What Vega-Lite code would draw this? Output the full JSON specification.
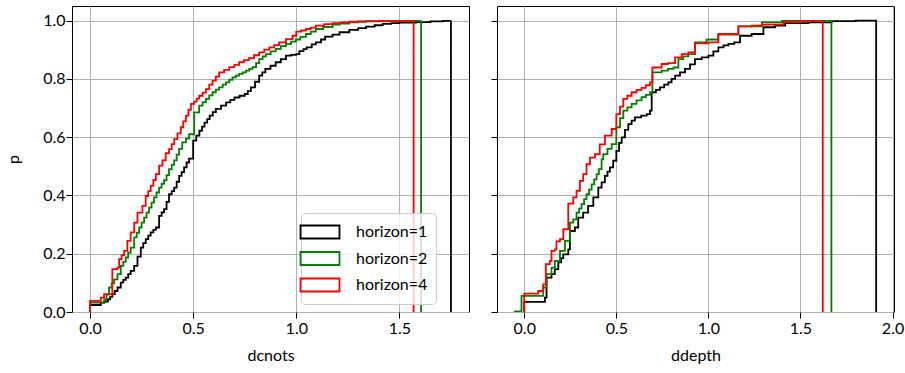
{
"$schema": "https://vega.github.io/schema/vega-lite/v6.json",
"padding": {"left": 5, "top": 5, "right": 5, "bottom": 5},
"config": {
  "font": "Lato",
  "view": {"stroke": "#000000", "strokeWidth": 1},
  "axis": {"domain": false, "tickColor": "#000000", "tickSize": 6, "tickWidth": 1, "labelFontSize": 16, "labelColor": "#000000", "titleFontSize": 16, "titleFontWeight": "normal", "titleColor": "#000000", "gridColor": "#b0b0b0", "gridWidth": 1, "labelFont": "Lato", "titleFont": "Lato"},
  "line": {"strokeWidth": 1.8}
},
"datasets": {
"cdf": [
{"v":"dcnots","h":"horizon=1","i":0,"x":0,"p":0},{"v":"dcnots","h":"horizon=1","i":1,"x":0,"p":0.024},{"v":"dcnots","h":"horizon=1","i":2,"x":0.052,"p":0.032},{"v":"dcnots","h":"horizon=1","i":3,"x":0.07,"p":0.036},{"v":"dcnots","h":"horizon=1","i":4,"x":0.087,"p":0.043},{"v":"dcnots","h":"horizon=1","i":5,"x":0.098,"p":0.052},{"v":"dcnots","h":"horizon=1","i":6,"x":0.108,"p":0.061},{"v":"dcnots","h":"horizon=1","i":7,"x":0.12,"p":0.072},{"v":"dcnots","h":"horizon=1","i":8,"x":0.133,"p":0.084},{"v":"dcnots","h":"horizon=1","i":9,"x":0.149,"p":0.101},{"v":"dcnots","h":"horizon=1","i":10,"x":0.161,"p":0.11},{"v":"dcnots","h":"horizon=1","i":11,"x":0.173,"p":0.118},{"v":"dcnots","h":"horizon=1","i":12,"x":0.185,"p":0.13},{"v":"dcnots","h":"horizon=1","i":13,"x":0.197,"p":0.141},{"v":"dcnots","h":"horizon=1","i":14,"x":0.214,"p":0.158},{"v":"dcnots","h":"horizon=1","i":15,"x":0.23,"p":0.19},{"v":"dcnots","h":"horizon=1","i":16,"x":0.246,"p":0.221},{"v":"dcnots","h":"horizon=1","i":17,"x":0.258,"p":0.236},{"v":"dcnots","h":"horizon=1","i":18,"x":0.27,"p":0.25},{"v":"dcnots","h":"horizon=1","i":19,"x":0.282,"p":0.262},{"v":"dcnots","h":"horizon=1","i":20,"x":0.294,"p":0.273},{"v":"dcnots","h":"horizon=1","i":21,"x":0.307,"p":0.282},{"v":"dcnots","h":"horizon=1","i":22,"x":0.319,"p":0.29},{"v":"dcnots","h":"horizon=1","i":23,"x":0.335,"p":0.33},{"v":"dcnots","h":"horizon=1","i":24,"x":0.347,"p":0.342},{"v":"dcnots","h":"horizon=1","i":25,"x":0.359,"p":0.353},{"v":"dcnots","h":"horizon=1","i":26,"x":0.371,"p":0.378},{"v":"dcnots","h":"horizon=1","i":27,"x":0.383,"p":0.404},{"v":"dcnots","h":"horizon=1","i":28,"x":0.396,"p":0.415},{"v":"dcnots","h":"horizon=1","i":29,"x":0.408,"p":0.427},{"v":"dcnots","h":"horizon=1","i":30,"x":0.42,"p":0.447},{"v":"dcnots","h":"horizon=1","i":31,"x":0.432,"p":0.467},{"v":"dcnots","h":"horizon=1","i":32,"x":0.444,"p":0.48},{"v":"dcnots","h":"horizon=1","i":33,"x":0.456,"p":0.496},{"v":"dcnots","h":"horizon=1","i":34,"x":0.468,"p":0.513},{"v":"dcnots","h":"horizon=1","i":35,"x":0.48,"p":0.526},{"v":"dcnots","h":"horizon=1","i":36,"x":0.5,"p":0.588},{"v":"dcnots","h":"horizon=1","i":37,"x":0.515,"p":0.605},{"v":"dcnots","h":"horizon=1","i":38,"x":0.53,"p":0.622},{"v":"dcnots","h":"horizon=1","i":39,"x":0.543,"p":0.636},{"v":"dcnots","h":"horizon=1","i":40,"x":0.555,"p":0.65},{"v":"dcnots","h":"horizon=1","i":41,"x":0.568,"p":0.662},{"v":"dcnots","h":"horizon=1","i":42,"x":0.58,"p":0.674},{"v":"dcnots","h":"horizon=1","i":43,"x":0.595,"p":0.686},{"v":"dcnots","h":"horizon=1","i":44,"x":0.61,"p":0.697},{"v":"dcnots","h":"horizon=1","i":45,"x":0.635,"p":0.708},{"v":"dcnots","h":"horizon=1","i":46,"x":0.66,"p":0.719},{"v":"dcnots","h":"horizon=1","i":47,"x":0.68,"p":0.728},{"v":"dcnots","h":"horizon=1","i":48,"x":0.7,"p":0.736},{"v":"dcnots","h":"horizon=1","i":49,"x":0.725,"p":0.742},{"v":"dcnots","h":"horizon=1","i":50,"x":0.75,"p":0.748},{"v":"dcnots","h":"horizon=1","i":51,"x":0.765,"p":0.758},{"v":"dcnots","h":"horizon=1","i":52,"x":0.78,"p":0.771},{"v":"dcnots","h":"horizon=1","i":53,"x":0.8,"p":0.79},{"v":"dcnots","h":"horizon=1","i":54,"x":0.82,"p":0.811},{"v":"dcnots","h":"horizon=1","i":55,"x":0.835,"p":0.822},{"v":"dcnots","h":"horizon=1","i":56,"x":0.85,"p":0.834},{"v":"dcnots","h":"horizon=1","i":57,"x":0.875,"p":0.845},{"v":"dcnots","h":"horizon=1","i":58,"x":0.9,"p":0.857},{"v":"dcnots","h":"horizon=1","i":59,"x":0.925,"p":0.868},{"v":"dcnots","h":"horizon=1","i":60,"x":0.95,"p":0.88},{"v":"dcnots","h":"horizon=1","i":61,"x":0.975,"p":0.882},{"v":"dcnots","h":"horizon=1","i":62,"x":1.0,"p":0.885},{"v":"dcnots","h":"horizon=1","i":63,"x":1.015,"p":0.895},{"v":"dcnots","h":"horizon=1","i":64,"x":1.035,"p":0.902},{"v":"dcnots","h":"horizon=1","i":65,"x":1.05,"p":0.908},{"v":"dcnots","h":"horizon=1","i":66,"x":1.075,"p":0.918},{"v":"dcnots","h":"horizon=1","i":67,"x":1.095,"p":0.925},{"v":"dcnots","h":"horizon=1","i":68,"x":1.12,"p":0.935},{"v":"dcnots","h":"horizon=1","i":69,"x":1.14,"p":0.945},{"v":"dcnots","h":"horizon=1","i":70,"x":1.176,"p":0.952},{"v":"dcnots","h":"horizon=1","i":71,"x":1.21,"p":0.96},{"v":"dcnots","h":"horizon=1","i":72,"x":1.257,"p":0.968},{"v":"dcnots","h":"horizon=1","i":73,"x":1.3,"p":0.974},{"v":"dcnots","h":"horizon=1","i":74,"x":1.338,"p":0.979},{"v":"dcnots","h":"horizon=1","i":75,"x":1.38,"p":0.984},{"v":"dcnots","h":"horizon=1","i":76,"x":1.419,"p":0.989},{"v":"dcnots","h":"horizon=1","i":77,"x":1.46,"p":0.991},{"v":"dcnots","h":"horizon=1","i":78,"x":1.5,"p":0.993},{"v":"dcnots","h":"horizon=1","i":79,"x":1.58,"p":0.995},{"v":"dcnots","h":"horizon=1","i":80,"x":1.65,"p":0.997},{"v":"dcnots","h":"horizon=1","i":81,"x":1.71,"p":0.999},{"v":"dcnots","h":"horizon=1","i":82,"x":1.75,"p":1.0},{"v":"dcnots","h":"horizon=1","i":83,"x":1.75,"p":0},
{"v":"dcnots","h":"horizon=2","i":0,"x":0,"p":0},{"v":"dcnots","h":"horizon=2","i":1,"x":0,"p":0.032},{"v":"dcnots","h":"horizon=2","i":2,"x":0.068,"p":0.043},{"v":"dcnots","h":"horizon=2","i":3,"x":0.08,"p":0.06},{"v":"dcnots","h":"horizon=2","i":4,"x":0.092,"p":0.084},{"v":"dcnots","h":"horizon=2","i":5,"x":0.105,"p":0.098},{"v":"dcnots","h":"horizon=2","i":6,"x":0.117,"p":0.112},{"v":"dcnots","h":"horizon=2","i":7,"x":0.133,"p":0.13},{"v":"dcnots","h":"horizon=2","i":8,"x":0.149,"p":0.158},{"v":"dcnots","h":"horizon=2","i":9,"x":0.161,"p":0.172},{"v":"dcnots","h":"horizon=2","i":10,"x":0.173,"p":0.187},{"v":"dcnots","h":"horizon=2","i":11,"x":0.185,"p":0.204},{"v":"dcnots","h":"horizon=2","i":12,"x":0.197,"p":0.221},{"v":"dcnots","h":"horizon=2","i":13,"x":0.214,"p":0.256},{"v":"dcnots","h":"horizon=2","i":14,"x":0.226,"p":0.272},{"v":"dcnots","h":"horizon=2","i":15,"x":0.238,"p":0.29},{"v":"dcnots","h":"horizon=2","i":16,"x":0.25,"p":0.307},{"v":"dcnots","h":"horizon=2","i":17,"x":0.262,"p":0.324},{"v":"dcnots","h":"horizon=2","i":18,"x":0.274,"p":0.341},{"v":"dcnots","h":"horizon=2","i":19,"x":0.286,"p":0.358},{"v":"dcnots","h":"horizon=2","i":20,"x":0.298,"p":0.375},{"v":"dcnots","h":"horizon=2","i":21,"x":0.31,"p":0.393},{"v":"dcnots","h":"horizon=2","i":22,"x":0.322,"p":0.41},{"v":"dcnots","h":"horizon=2","i":23,"x":0.335,"p":0.427},{"v":"dcnots","h":"horizon=2","i":24,"x":0.347,"p":0.44},{"v":"dcnots","h":"horizon=2","i":25,"x":0.359,"p":0.452},{"v":"dcnots","h":"horizon=2","i":26,"x":0.371,"p":0.47},{"v":"dcnots","h":"horizon=2","i":27,"x":0.383,"p":0.49},{"v":"dcnots","h":"horizon=2","i":28,"x":0.396,"p":0.505},{"v":"dcnots","h":"horizon=2","i":29,"x":0.408,"p":0.52},{"v":"dcnots","h":"horizon=2","i":30,"x":0.42,"p":0.54},{"v":"dcnots","h":"horizon=2","i":31,"x":0.432,"p":0.56},{"v":"dcnots","h":"horizon=2","i":32,"x":0.447,"p":0.582},{"v":"dcnots","h":"horizon=2","i":33,"x":0.465,"p":0.595},{"v":"dcnots","h":"horizon=2","i":34,"x":0.48,"p":0.61},{"v":"dcnots","h":"horizon=2","i":35,"x":0.505,"p":0.685},{"v":"dcnots","h":"horizon=2","i":36,"x":0.529,"p":0.708},{"v":"dcnots","h":"horizon=2","i":37,"x":0.546,"p":0.72},{"v":"dcnots","h":"horizon=2","i":38,"x":0.562,"p":0.731},{"v":"dcnots","h":"horizon=2","i":39,"x":0.578,"p":0.743},{"v":"dcnots","h":"horizon=2","i":40,"x":0.594,"p":0.754},{"v":"dcnots","h":"horizon=2","i":41,"x":0.61,"p":0.763},{"v":"dcnots","h":"horizon=2","i":42,"x":0.626,"p":0.771},{"v":"dcnots","h":"horizon=2","i":43,"x":0.643,"p":0.78},{"v":"dcnots","h":"horizon=2","i":44,"x":0.659,"p":0.788},{"v":"dcnots","h":"horizon=2","i":45,"x":0.675,"p":0.797},{"v":"dcnots","h":"horizon=2","i":46,"x":0.691,"p":0.805},{"v":"dcnots","h":"horizon=2","i":47,"x":0.707,"p":0.811},{"v":"dcnots","h":"horizon=2","i":48,"x":0.723,"p":0.817},{"v":"dcnots","h":"horizon=2","i":49,"x":0.74,"p":0.822},{"v":"dcnots","h":"horizon=2","i":50,"x":0.756,"p":0.828},{"v":"dcnots","h":"horizon=2","i":51,"x":0.772,"p":0.834},{"v":"dcnots","h":"horizon=2","i":52,"x":0.788,"p":0.84},{"v":"dcnots","h":"horizon=2","i":53,"x":0.805,"p":0.854},{"v":"dcnots","h":"horizon=2","i":54,"x":0.82,"p":0.868},{"v":"dcnots","h":"horizon=2","i":55,"x":0.837,"p":0.877},{"v":"dcnots","h":"horizon=2","i":56,"x":0.853,"p":0.885},{"v":"dcnots","h":"horizon=2","i":57,"x":0.876,"p":0.894},{"v":"dcnots","h":"horizon=2","i":58,"x":0.9,"p":0.903},{"v":"dcnots","h":"horizon=2","i":59,"x":0.925,"p":0.912},{"v":"dcnots","h":"horizon=2","i":60,"x":0.95,"p":0.92},{"v":"dcnots","h":"horizon=2","i":61,"x":0.975,"p":0.928},{"v":"dcnots","h":"horizon=2","i":62,"x":0.998,"p":0.935},{"v":"dcnots","h":"horizon=2","i":63,"x":1.02,"p":0.944},{"v":"dcnots","h":"horizon=2","i":64,"x":1.047,"p":0.954},{"v":"dcnots","h":"horizon=2","i":65,"x":1.07,"p":0.962},{"v":"dcnots","h":"horizon=2","i":66,"x":1.095,"p":0.971},{"v":"dcnots","h":"horizon=2","i":67,"x":1.13,"p":0.978},{"v":"dcnots","h":"horizon=2","i":68,"x":1.176,"p":0.986},{"v":"dcnots","h":"horizon=2","i":69,"x":1.21,"p":0.99},{"v":"dcnots","h":"horizon=2","i":70,"x":1.257,"p":0.994},{"v":"dcnots","h":"horizon=2","i":71,"x":1.3,"p":0.996},{"v":"dcnots","h":"horizon=2","i":72,"x":1.338,"p":0.998},{"v":"dcnots","h":"horizon=2","i":73,"x":1.45,"p":0.999},{"v":"dcnots","h":"horizon=2","i":74,"x":1.605,"p":1.0},{"v":"dcnots","h":"horizon=2","i":75,"x":1.605,"p":0},
{"v":"dcnots","h":"horizon=4","i":0,"x":0,"p":0},{"v":"dcnots","h":"horizon=4","i":1,"x":0,"p":0.038},{"v":"dcnots","h":"horizon=4","i":2,"x":0.052,"p":0.049},{"v":"dcnots","h":"horizon=4","i":3,"x":0.068,"p":0.061},{"v":"dcnots","h":"horizon=4","i":4,"x":0.108,"p":0.147},{"v":"dcnots","h":"horizon=4","i":5,"x":0.133,"p":0.152},{"v":"dcnots","h":"horizon=4","i":6,"x":0.141,"p":0.181},{"v":"dcnots","h":"horizon=4","i":7,"x":0.153,"p":0.195},{"v":"dcnots","h":"horizon=4","i":8,"x":0.165,"p":0.21},{"v":"dcnots","h":"horizon=4","i":9,"x":0.181,"p":0.244},{"v":"dcnots","h":"horizon=4","i":10,"x":0.197,"p":0.273},{"v":"dcnots","h":"horizon=4","i":11,"x":0.214,"p":0.307},{"v":"dcnots","h":"horizon=4","i":12,"x":0.23,"p":0.341},{"v":"dcnots","h":"horizon=4","i":13,"x":0.254,"p":0.364},{"v":"dcnots","h":"horizon=4","i":14,"x":0.27,"p":0.398},{"v":"dcnots","h":"horizon=4","i":15,"x":0.282,"p":0.415},{"v":"dcnots","h":"horizon=4","i":16,"x":0.294,"p":0.433},{"v":"dcnots","h":"horizon=4","i":17,"x":0.307,"p":0.453},{"v":"dcnots","h":"horizon=4","i":18,"x":0.319,"p":0.473},{"v":"dcnots","h":"horizon=4","i":19,"x":0.335,"p":0.502},{"v":"dcnots","h":"horizon=4","i":20,"x":0.351,"p":0.52},{"v":"dcnots","h":"horizon=4","i":21,"x":0.367,"p":0.545},{"v":"dcnots","h":"horizon=4","i":22,"x":0.383,"p":0.559},{"v":"dcnots","h":"horizon=4","i":23,"x":0.396,"p":0.576},{"v":"dcnots","h":"horizon=4","i":24,"x":0.408,"p":0.593},{"v":"dcnots","h":"horizon=4","i":25,"x":0.424,"p":0.613},{"v":"dcnots","h":"horizon=4","i":26,"x":0.44,"p":0.634},{"v":"dcnots","h":"horizon=4","i":27,"x":0.452,"p":0.654},{"v":"dcnots","h":"horizon=4","i":28,"x":0.465,"p":0.674},{"v":"dcnots","h":"horizon=4","i":29,"x":0.477,"p":0.694},{"v":"dcnots","h":"horizon=4","i":30,"x":0.489,"p":0.714},{"v":"dcnots","h":"horizon=4","i":31,"x":0.505,"p":0.722},{"v":"dcnots","h":"horizon=4","i":32,"x":0.517,"p":0.732},{"v":"dcnots","h":"horizon=4","i":33,"x":0.529,"p":0.742},{"v":"dcnots","h":"horizon=4","i":34,"x":0.546,"p":0.753},{"v":"dcnots","h":"horizon=4","i":35,"x":0.562,"p":0.765},{"v":"dcnots","h":"horizon=4","i":36,"x":0.578,"p":0.78},{"v":"dcnots","h":"horizon=4","i":37,"x":0.594,"p":0.794},{"v":"dcnots","h":"horizon=4","i":38,"x":0.61,"p":0.808},{"v":"dcnots","h":"horizon=4","i":39,"x":0.626,"p":0.822},{"v":"dcnots","h":"horizon=4","i":40,"x":0.65,"p":0.831},{"v":"dcnots","h":"horizon=4","i":41,"x":0.675,"p":0.84},{"v":"dcnots","h":"horizon=4","i":42,"x":0.7,"p":0.848},{"v":"dcnots","h":"horizon=4","i":43,"x":0.723,"p":0.857},{"v":"dcnots","h":"horizon=4","i":44,"x":0.746,"p":0.864},{"v":"dcnots","h":"horizon=4","i":45,"x":0.77,"p":0.871},{"v":"dcnots","h":"horizon=4","i":46,"x":0.795,"p":0.881},{"v":"dcnots","h":"horizon=4","i":47,"x":0.82,"p":0.891},{"v":"dcnots","h":"horizon=4","i":48,"x":0.845,"p":0.9},{"v":"dcnots","h":"horizon=4","i":49,"x":0.87,"p":0.908},{"v":"dcnots","h":"horizon=4","i":50,"x":0.893,"p":0.916},{"v":"dcnots","h":"horizon=4","i":51,"x":0.917,"p":0.925},{"v":"dcnots","h":"horizon=4","i":52,"x":0.95,"p":0.936},{"v":"dcnots","h":"horizon=4","i":53,"x":0.982,"p":0.948},{"v":"dcnots","h":"horizon=4","i":54,"x":1.0,"p":0.962},{"v":"dcnots","h":"horizon=4","i":55,"x":1.023,"p":0.966},{"v":"dcnots","h":"horizon=4","i":56,"x":1.047,"p":0.971},{"v":"dcnots","h":"horizon=4","i":57,"x":1.07,"p":0.976},{"v":"dcnots","h":"horizon=4","i":58,"x":1.095,"p":0.983},{"v":"dcnots","h":"horizon=4","i":59,"x":1.135,"p":0.988},{"v":"dcnots","h":"horizon=4","i":60,"x":1.176,"p":0.991},{"v":"dcnots","h":"horizon=4","i":61,"x":1.22,"p":0.994},{"v":"dcnots","h":"horizon=4","i":62,"x":1.257,"p":0.996},{"v":"dcnots","h":"horizon=4","i":63,"x":1.3,"p":0.997},{"v":"dcnots","h":"horizon=4","i":64,"x":1.4,"p":0.999},{"v":"dcnots","h":"horizon=4","i":65,"x":1.569,"p":1.0},{"v":"dcnots","h":"horizon=4","i":66,"x":1.569,"p":0},
{"v":"ddepth","h":"horizon=1","i":0,"x":0,"p":0},{"v":"ddepth","h":"horizon=1","i":1,"x":0,"p":0.035},{"v":"ddepth","h":"horizon=1","i":2,"x":0.112,"p":0.049},{"v":"ddepth","h":"horizon=1","i":3,"x":0.121,"p":0.118},{"v":"ddepth","h":"horizon=1","i":4,"x":0.148,"p":0.13},{"v":"ddepth","h":"horizon=1","i":5,"x":0.166,"p":0.147},{"v":"ddepth","h":"horizon=1","i":6,"x":0.185,"p":0.17},{"v":"ddepth","h":"horizon=1","i":7,"x":0.2,"p":0.185},{"v":"ddepth","h":"horizon=1","i":8,"x":0.212,"p":0.198},{"v":"ddepth","h":"horizon=1","i":9,"x":0.239,"p":0.215},{"v":"ddepth","h":"horizon=1","i":10,"x":0.248,"p":0.278},{"v":"ddepth","h":"horizon=1","i":11,"x":0.275,"p":0.29},{"v":"ddepth","h":"horizon=1","i":12,"x":0.293,"p":0.324},{"v":"ddepth","h":"horizon=1","i":13,"x":0.32,"p":0.341},{"v":"ddepth","h":"horizon=1","i":14,"x":0.347,"p":0.364},{"v":"ddepth","h":"horizon=1","i":15,"x":0.375,"p":0.393},{"v":"ddepth","h":"horizon=1","i":16,"x":0.402,"p":0.427},{"v":"ddepth","h":"horizon=1","i":17,"x":0.42,"p":0.445},{"v":"ddepth","h":"horizon=1","i":18,"x":0.438,"p":0.467},{"v":"ddepth","h":"horizon=1","i":19,"x":0.452,"p":0.482},{"v":"ddepth","h":"horizon=1","i":20,"x":0.465,"p":0.496},{"v":"ddepth","h":"horizon=1","i":21,"x":0.483,"p":0.519},{"v":"ddepth","h":"horizon=1","i":22,"x":0.5,"p":0.553},{"v":"ddepth","h":"horizon=1","i":23,"x":0.515,"p":0.58},{"v":"ddepth","h":"horizon=1","i":24,"x":0.529,"p":0.599},{"v":"ddepth","h":"horizon=1","i":25,"x":0.547,"p":0.625},{"v":"ddepth","h":"horizon=1","i":26,"x":0.565,"p":0.645},{"v":"ddepth","h":"horizon=1","i":27,"x":0.583,"p":0.657},{"v":"ddepth","h":"horizon=1","i":28,"x":0.601,"p":0.668},{"v":"ddepth","h":"horizon=1","i":29,"x":0.635,"p":0.674},{"v":"ddepth","h":"horizon=1","i":30,"x":0.665,"p":0.679},{"v":"ddepth","h":"horizon=1","i":31,"x":0.683,"p":0.691},{"v":"ddepth","h":"horizon=1","i":32,"x":0.692,"p":0.754},{"v":"ddepth","h":"horizon=1","i":33,"x":0.715,"p":0.762},{"v":"ddepth","h":"horizon=1","i":34,"x":0.737,"p":0.771},{"v":"ddepth","h":"horizon=1","i":35,"x":0.76,"p":0.78},{"v":"ddepth","h":"horizon=1","i":36,"x":0.782,"p":0.788},{"v":"ddepth","h":"horizon=1","i":37,"x":0.8,"p":0.8},{"v":"ddepth","h":"horizon=1","i":38,"x":0.819,"p":0.811},{"v":"ddepth","h":"horizon=1","i":39,"x":0.846,"p":0.822},{"v":"ddepth","h":"horizon=1","i":40,"x":0.873,"p":0.834},{"v":"ddepth","h":"horizon=1","i":41,"x":0.9,"p":0.85},{"v":"ddepth","h":"horizon=1","i":42,"x":0.927,"p":0.868},{"v":"ddepth","h":"horizon=1","i":43,"x":0.964,"p":0.874},{"v":"ddepth","h":"horizon=1","i":44,"x":1.0,"p":0.88},{"v":"ddepth","h":"horizon=1","i":45,"x":1.027,"p":0.894},{"v":"ddepth","h":"horizon=1","i":46,"x":1.054,"p":0.908},{"v":"ddepth","h":"horizon=1","i":47,"x":1.082,"p":0.915},{"v":"ddepth","h":"horizon=1","i":48,"x":1.109,"p":0.92},{"v":"ddepth","h":"horizon=1","i":49,"x":1.14,"p":0.925},{"v":"ddepth","h":"horizon=1","i":50,"x":1.172,"p":0.948},{"v":"ddepth","h":"horizon=1","i":51,"x":1.235,"p":0.954},{"v":"ddepth","h":"horizon=1","i":52,"x":1.299,"p":0.977},{"v":"ddepth","h":"horizon=1","i":53,"x":1.362,"p":0.983},{"v":"ddepth","h":"horizon=1","i":54,"x":1.417,"p":0.991},{"v":"ddepth","h":"horizon=1","i":55,"x":1.543,"p":0.994},{"v":"ddepth","h":"horizon=1","i":56,"x":1.67,"p":0.998},{"v":"ddepth","h":"horizon=1","i":57,"x":1.8,"p":1.0},{"v":"ddepth","h":"horizon=1","i":58,"x":1.911,"p":1.0},{"v":"ddepth","h":"horizon=1","i":59,"x":1.911,"p":0},
{"v":"ddepth","h":"horizon=2","i":0,"x":-0.05,"p":0},{"v":"ddepth","h":"horizon=2","i":1,"x":-0.05,"p":0.002},{"v":"ddepth","h":"horizon=2","i":2,"x":-0.015,"p":0.055},{"v":"ddepth","h":"horizon=2","i":3,"x":0.103,"p":0.084},{"v":"ddepth","h":"horizon=2","i":4,"x":0.121,"p":0.13},{"v":"ddepth","h":"horizon=2","i":5,"x":0.148,"p":0.152},{"v":"ddepth","h":"horizon=2","i":6,"x":0.166,"p":0.175},{"v":"ddepth","h":"horizon=2","i":7,"x":0.194,"p":0.21},{"v":"ddepth","h":"horizon=2","i":8,"x":0.221,"p":0.244},{"v":"ddepth","h":"horizon=2","i":9,"x":0.248,"p":0.307},{"v":"ddepth","h":"horizon=2","i":10,"x":0.266,"p":0.318},{"v":"ddepth","h":"horizon=2","i":11,"x":0.284,"p":0.341},{"v":"ddepth","h":"horizon=2","i":12,"x":0.298,"p":0.355},{"v":"ddepth","h":"horizon=2","i":13,"x":0.311,"p":0.37},{"v":"ddepth","h":"horizon=2","i":14,"x":0.325,"p":0.387},{"v":"ddepth","h":"horizon=2","i":15,"x":0.338,"p":0.404},{"v":"ddepth","h":"horizon=2","i":16,"x":0.352,"p":0.42},{"v":"ddepth","h":"horizon=2","i":17,"x":0.366,"p":0.438},{"v":"ddepth","h":"horizon=2","i":18,"x":0.38,"p":0.455},{"v":"ddepth","h":"horizon=2","i":19,"x":0.393,"p":0.473},{"v":"ddepth","h":"horizon=2","i":20,"x":0.405,"p":0.49},{"v":"ddepth","h":"horizon=2","i":21,"x":0.42,"p":0.524},{"v":"ddepth","h":"horizon=2","i":22,"x":0.429,"p":0.542},{"v":"ddepth","h":"horizon=2","i":23,"x":0.452,"p":0.56},{"v":"ddepth","h":"horizon=2","i":24,"x":0.475,"p":0.576},{"v":"ddepth","h":"horizon=2","i":25,"x":0.5,"p":0.634},{"v":"ddepth","h":"horizon=2","i":26,"x":0.52,"p":0.665},{"v":"ddepth","h":"horizon=2","i":27,"x":0.538,"p":0.691},{"v":"ddepth","h":"horizon=2","i":28,"x":0.56,"p":0.702},{"v":"ddepth","h":"horizon=2","i":29,"x":0.583,"p":0.714},{"v":"ddepth","h":"horizon=2","i":30,"x":0.61,"p":0.726},{"v":"ddepth","h":"horizon=2","i":31,"x":0.637,"p":0.737},{"v":"ddepth","h":"horizon=2","i":32,"x":0.66,"p":0.745},{"v":"ddepth","h":"horizon=2","i":33,"x":0.683,"p":0.754},{"v":"ddepth","h":"horizon=2","i":34,"x":0.696,"p":0.822},{"v":"ddepth","h":"horizon=2","i":35,"x":0.746,"p":0.828},{"v":"ddepth","h":"horizon=2","i":36,"x":0.78,"p":0.834},{"v":"ddepth","h":"horizon=2","i":37,"x":0.81,"p":0.839},{"v":"ddepth","h":"horizon=2","i":38,"x":0.837,"p":0.868},{"v":"ddepth","h":"horizon=2","i":39,"x":0.864,"p":0.877},{"v":"ddepth","h":"horizon=2","i":40,"x":0.891,"p":0.885},{"v":"ddepth","h":"horizon=2","i":41,"x":0.927,"p":0.925},{"v":"ddepth","h":"horizon=2","i":42,"x":0.99,"p":0.935},{"v":"ddepth","h":"horizon=2","i":43,"x":1.054,"p":0.952},{"v":"ddepth","h":"horizon=2","i":44,"x":1.163,"p":0.98},{"v":"ddepth","h":"horizon=2","i":45,"x":1.29,"p":0.994},{"v":"ddepth","h":"horizon=2","i":46,"x":1.4,"p":0.999},{"v":"ddepth","h":"horizon=2","i":47,"x":1.668,"p":1.0},{"v":"ddepth","h":"horizon=2","i":48,"x":1.668,"p":0},
{"v":"ddepth","h":"horizon=4","i":0,"x":0,"p":0},{"v":"ddepth","h":"horizon=4","i":1,"x":0,"p":0.063},{"v":"ddepth","h":"horizon=4","i":2,"x":0.076,"p":0.072},{"v":"ddepth","h":"horizon=4","i":3,"x":0.103,"p":0.095},{"v":"ddepth","h":"horizon=4","i":4,"x":0.117,"p":0.164},{"v":"ddepth","h":"horizon=4","i":5,"x":0.139,"p":0.175},{"v":"ddepth","h":"horizon=4","i":6,"x":0.148,"p":0.21},{"v":"ddepth","h":"horizon=4","i":7,"x":0.166,"p":0.215},{"v":"ddepth","h":"horizon=4","i":8,"x":0.175,"p":0.242},{"v":"ddepth","h":"horizon=4","i":9,"x":0.194,"p":0.25},{"v":"ddepth","h":"horizon=4","i":10,"x":0.212,"p":0.284},{"v":"ddepth","h":"horizon=4","i":11,"x":0.239,"p":0.372},{"v":"ddepth","h":"horizon=4","i":12,"x":0.266,"p":0.393},{"v":"ddepth","h":"horizon=4","i":13,"x":0.284,"p":0.416},{"v":"ddepth","h":"horizon=4","i":14,"x":0.302,"p":0.45},{"v":"ddepth","h":"horizon=4","i":15,"x":0.32,"p":0.473},{"v":"ddepth","h":"horizon=4","i":16,"x":0.338,"p":0.507},{"v":"ddepth","h":"horizon=4","i":17,"x":0.357,"p":0.53},{"v":"ddepth","h":"horizon=4","i":18,"x":0.384,"p":0.542},{"v":"ddepth","h":"horizon=4","i":19,"x":0.41,"p":0.575},{"v":"ddepth","h":"horizon=4","i":20,"x":0.438,"p":0.605},{"v":"ddepth","h":"horizon=4","i":21,"x":0.475,"p":0.628},{"v":"ddepth","h":"horizon=4","i":22,"x":0.5,"p":0.679},{"v":"ddepth","h":"horizon=4","i":23,"x":0.52,"p":0.705},{"v":"ddepth","h":"horizon=4","i":24,"x":0.538,"p":0.731},{"v":"ddepth","h":"horizon=4","i":25,"x":0.56,"p":0.742},{"v":"ddepth","h":"horizon=4","i":26,"x":0.583,"p":0.754},{"v":"ddepth","h":"horizon=4","i":27,"x":0.61,"p":0.762},{"v":"ddepth","h":"horizon=4","i":28,"x":0.637,"p":0.769},{"v":"ddepth","h":"horizon=4","i":29,"x":0.66,"p":0.778},{"v":"ddepth","h":"horizon=4","i":30,"x":0.683,"p":0.788},{"v":"ddepth","h":"horizon=4","i":31,"x":0.696,"p":0.839},{"v":"ddepth","h":"horizon=4","i":32,"x":0.746,"p":0.851},{"v":"ddepth","h":"horizon=4","i":33,"x":0.78,"p":0.854},{"v":"ddepth","h":"horizon=4","i":34,"x":0.819,"p":0.874},{"v":"ddepth","h":"horizon=4","i":35,"x":0.855,"p":0.885},{"v":"ddepth","h":"horizon=4","i":36,"x":0.891,"p":0.891},{"v":"ddepth","h":"horizon=4","i":37,"x":0.927,"p":0.922},{"v":"ddepth","h":"horizon=4","i":38,"x":1.0,"p":0.925},{"v":"ddepth","h":"horizon=4","i":39,"x":1.054,"p":0.954},{"v":"ddepth","h":"horizon=4","i":40,"x":1.163,"p":0.98},{"v":"ddepth","h":"horizon=4","i":41,"x":1.235,"p":0.983},{"v":"ddepth","h":"horizon=4","i":42,"x":1.29,"p":0.986},{"v":"ddepth","h":"horizon=4","i":43,"x":1.408,"p":0.996},{"v":"ddepth","h":"horizon=4","i":44,"x":1.507,"p":0.999},{"v":"ddepth","h":"horizon=4","i":45,"x":1.621,"p":1.0},{"v":"ddepth","h":"horizon=4","i":46,"x":1.621,"p":0}
]
},
"spacing": 20,
"resolve": {"legend": {"color": "independent"}},
"hconcat": [
  {
    "width": 397, "height": 306,
    "data": {"name": "cdf"},
    "transform": [{"filter": "datum.v === 'dcnots'"}],
    "mark": {"type": "line", "interpolate": "step-after", "strokeWidth": 1.8, "clip": true},
    "encoding": {
      "x": {"field": "x", "type": "quantitative", "scale": {"domain": [-0.0875, 1.8375], "nice": false, "zero": false}, "axis": {"values": [0, 0.5, 1, 1.5], "format": ".1f", "title": "dcnots", "labelPadding": 2, "titlePadding": 11}},
      "y": {"field": "p", "type": "quantitative", "scale": {"domain": [0, 1.05], "nice": false}, "axis": {"values": [0, 0.2, 0.4, 0.6, 0.8, 1], "format": ".1f", "title": "p", "labelPadding": 1, "titlePadding": 21}},
      "color": {"field": "h", "type": "nominal", "scale": {"domain": ["horizon=1", "horizon=2", "horizon=4"], "range": ["#000000", "#008000", "#ff0000"]},
        "legend": {"orient": "none", "legendX": 229, "legendY": 207, "title": null, "symbolType": "M-2,-0.667H2V0.667H-2Z", "symbolSize": 380, "symbolStrokeWidth": 2, "symbolFillColor": "transparent", "labelFontSize": 16, "labelColor": "#000000", "labelFont": "Lato", "labelOffset": 25, "rowPadding": 4.5, "padding": 8, "fillColor": "rgba(255,255,255,0.8)", "strokeColor": "#cccccc", "cornerRadius": 4}},
      "order": {"field": "i", "type": "quantitative"}
    }
  },
  {
    "width": 397, "height": 306,
    "data": {"name": "cdf"},
    "transform": [{"filter": "datum.v === 'ddepth'"}],
    "mark": {"type": "line", "interpolate": "step-after", "strokeWidth": 1.8, "clip": true},
    "encoding": {
      "x": {"field": "x", "type": "quantitative", "scale": {"domain": [-0.148, 2.008], "nice": false, "zero": false}, "axis": {"values": [0, 0.5, 1, 1.5, 2], "format": ".1f", "title": "ddepth", "labelPadding": 2, "titlePadding": 11}},
      "y": {"field": "p", "type": "quantitative", "scale": {"domain": [0, 1.05], "nice": false}, "axis": {"values": [0, 0.2, 0.4, 0.6, 0.8, 1], "labels": false, "title": null}},
      "color": {"field": "h", "type": "nominal", "scale": {"domain": ["horizon=1", "horizon=2", "horizon=4"], "range": ["#000000", "#008000", "#ff0000"]}, "legend": null},
      "order": {"field": "i", "type": "quantitative"}
    }
  }
]
}
